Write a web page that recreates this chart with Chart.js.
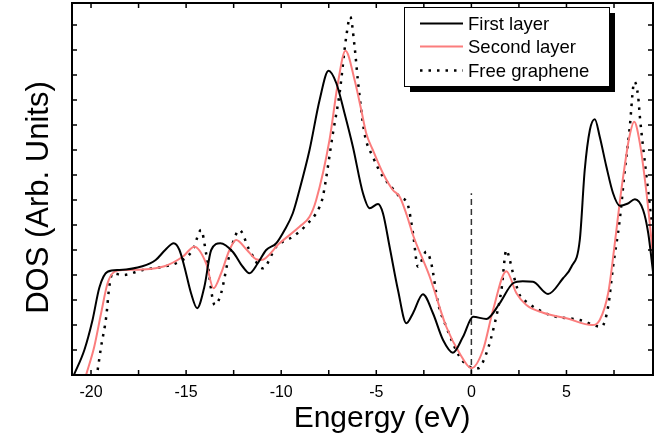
<!DOCTYPE html>
<html>
<head>
<meta charset="utf-8">
<script src="https://cdn.jsdelivr.net/npm/chart.js@4.4.0/dist/chart.umd.min.js"></script>
<style>
  html, body { margin: 0; padding: 0; background: #fff; }
</style>
</head>
<body>
<canvas id="grafico" width="668" height="437"></canvas>
<script>
// DOS curves (energy in eV, DOS in arbitrary units)
const firstE = [-20.9, -20.35, -19.92, -19.56, -19.13, -18.5, -17.3, -16.6, -16.1, -15.65, -15.35, -15.09, -14.74, -14.42, -14.04, -13.68, -13.2, -12.55, -12.02, -11.67, -11.23, -10.79, -10.26, -9.82, -9.39, -9.04, -8.51, -7.98, -7.51, -7.1, -6.67, -6.23, -5.7, -5.35, -4.91, -4.65, -4.3, -3.86, -3.42, -3.07, -2.55, -2.02, -1.49, -0.97, -0.44, 0.09, 0.79, 1.49, 2.19, 2.7, 3.24, 4.03, 4.82, 5.26, 5.7, 5.96, 6.23, 6.49, 6.75, 7.1, 7.45, 7.8, 8.2, 8.6, 9.03, 9.3, 9.56];
const firstDos = [0, 1.0, 2.2, 3.5, 4.13, 4.2, 4.35, 4.6, 5.0, 5.27, 5.0, 4.33, 3.27, 2.67, 3.53, 5.0, 5.27, 4.93, 4.33, 4.07, 4.47, 5.0, 5.27, 5.8, 6.47, 7.4, 9.0, 11.0, 12.17, 11.67, 10.47, 9.13, 7.27, 6.67, 6.84, 6.47, 5.13, 3.4, 2.07, 2.47, 3.23, 2.47, 1.4, 0.89, 1.53, 2.33, 2.24, 2.87, 3.67, 3.75, 3.73, 3.24, 3.87, 4.33, 5.4, 8.2, 9.8, 10.23, 9.53, 8.33, 7.27, 6.77, 6.85, 7.03, 6.6, 5.67, 4.07];

const secondE = [-20.26, -19.83, -19.47, -19.13, -18.77, -18.3, -17.28, -16.14, -15.18, -14.56, -13.95, -13.56, -13.16, -12.72, -12.37, -11.8, -11.32, -11.05, -10.09, -9.04, -8.51, -8.16, -7.46, -7.02, -6.62, -6.14, -5.79, -5.53, -5.18, -4.65, -4.13, -3.77, -3.4, -3.07, -2.19, -1.32, -0.62, 0, 0.61, 1.14, 1.84, 2.37, 2.89, 3.77, 5.0, 6.35, 6.75, 7.2, 7.5, 7.8, 8.05, 8.3, 8.56, 8.86, 9.21, 9.56];
const secondDos = [0, 1.13, 2.47, 3.67, 4.13, 4.2, 4.22, 4.35, 4.73, 5.13, 4.47, 3.47, 4.07, 5.0, 5.4, 5.0, 4.63, 4.6, 5.27, 5.93, 6.33, 7.0, 9.4, 11.67, 12.97, 11.8, 10.6, 9.67, 9.0, 8.07, 7.4, 7.13, 6.4, 5.6, 3.93, 1.93, 0.87, 0.27, 1.0, 2.6, 4.15, 3.27, 2.8, 2.49, 2.27, 2.0, 2.2, 3.3, 5.0, 6.9, 8.3, 9.5, 10.13, 9.27, 7.27, 4.73];

const freeE = [-19.65, -19.47, -19.2, -19.04, -18.86, -18.33, -17.28, -16.23, -15.53, -14.65, -14.21, -13.95, -13.49, -13.16, -12.81, -12.55, -12.2, -11.67, -10.97, -10.26, -9.39, -8.77, -7.98, -7.81, -7.28, -6.93, -6.58, -6.37, -6.14, -5.97, -5.62, -5.18, -4.65, -4.21, -3.77, -3.34, -3.07, -2.81, -2.37, -2.11, -1.75, -1.32, -0.62, -0.09, 0.35, 0.79, 1.23, 1.58, 1.84, 2.02, 2.19, 2.54, 2.89, 4.12, 5.7, 6.84, 7.19, 7.45, 7.8, 8.07, 8.33, 8.51, 8.58, 8.77, 8.86, 9.21, 9.47];
const freeDos = [0.2, 1.13, 2.33, 3.53, 4.07, 4.0, 4.2, 4.33, 4.47, 5.0, 5.8, 4.87, 2.8, 3.27, 4.53, 5.27, 5.8, 5.0, 4.27, 5.13, 5.53, 5.93, 6.73, 7.13, 9.67, 11.27, 13.53, 14.33, 13.13, 11.8, 9.67, 8.73, 7.93, 7.53, 7.13, 6.8, 5.67, 4.33, 4.93, 4.47, 2.87, 1.93, 0.73, 0.33, 0.27, 0.87, 2.07, 3.4, 5.0, 4.6, 4.07, 3.2, 2.93, 2.4, 2.2, 1.93, 2.73, 4.33, 6.2, 8.2, 9.93, 11.53, 11.73, 11.13, 10.33, 7.93, 6.2];

// Fermi level marker
const fermiE = [0, 0];
const fermiDos = [0, 7.27];

const seriesNames = ["First layer", "Second layer", "Free graphene"];
const xLabelTicks = [-20, -15, -10, -5, 0, 5];
const xMinorTicks = [-20, -17.5, -15, -12.5, -10, -7.5, -5, -2.5, 0, 2.5, 5, 7.5];
const yMinorTicks = [1, 2, 3, 4, 5, 6, 7, 8, 9, 10, 11, 12, 13, 14];
const xTitle = "Engergy (eV)";
const yTitle = "DOS (Arb. Units)";

const FONT = '"Liberation Sans", Arial, sans-serif';
const pts = (xs, ys) => xs.map((x, i) => ({ x: x, y: ys[i] }));

const data_dos = {
  datasets: [
    {
      label: seriesNames[0],
      data: pts(firstE, firstDos),
      borderColor: "#000000",
      borderWidth: 2,
      cubicInterpolationMode: "monotone",
      pointRadius: 0,
    },
    {
      label: seriesNames[1],
      data: pts(secondE, secondDos),
      borderColor: "#fb7d7d",
      borderWidth: 2,
      cubicInterpolationMode: "monotone",
      pointRadius: 0,
    },
    {
      label: seriesNames[2],
      data: pts(freeE, freeDos),
      borderColor: "#000000",
      borderWidth: 2.5,
      borderDash: [2.5, 6],
      cubicInterpolationMode: "monotone",
      pointRadius: 0,
    },
    {
      label: "Ef",
      data: pts(fermiE, fermiDos),
      borderColor: "#333333",
      borderWidth: 1.5,
      borderDash: [6, 4],
      pointRadius: 0,
    },
  ],
};

// frame with inward ticks, axis titles and the boxed legend with shadow
const moldura = {
  id: "moldura",
  afterDraw(chart) {
    const ctx = chart.ctx;
    const a = chart.chartArea;
    const sx = chart.scales.x;
    const sy = chart.scales.y;
    ctx.save();
    ctx.strokeStyle = "#000";
    ctx.lineWidth = 2;
    ctx.strokeRect(a.left, a.top, a.right - a.left, a.bottom - a.top);

    ctx.lineWidth = 1.5;
    ctx.beginPath();
    xMinorTicks.forEach((v) => {
      const p = sx.getPixelForValue(v);
      ctx.moveTo(p, a.bottom);
      ctx.lineTo(p, a.bottom - 5);
      ctx.moveTo(p, a.top);
      ctx.lineTo(p, a.top + 5);
    });
    yMinorTicks.forEach((v) => {
      const p = sy.getPixelForValue(v);
      ctx.moveTo(a.left, p);
      ctx.lineTo(a.left + 5, p);
      ctx.moveTo(a.right, p);
      ctx.lineTo(a.right - 5, p);
    });
    ctx.stroke();

    // axis titles
    ctx.fillStyle = "#000";
    ctx.textAlign = "center";
    ctx.textBaseline = "alphabetic";
    ctx.font = "30px " + FONT;
    ctx.fillText(xTitle, 382, 427);
    ctx.save();
    ctx.translate(48, 197.5);
    ctx.rotate(-Math.PI / 2);
    ctx.font = "31px " + FONT;
    ctx.fillText(yTitle, 0, 0);
    ctx.restore();

    // legend
    const bx = 404, by = 7, bw = 205, bh = 79;
    ctx.fillStyle = "#000";
    ctx.fillRect(bx + 6, by + 6, bw, bh);
    ctx.fillStyle = "#fff";
    ctx.fillRect(bx, by, bw, bh);
    ctx.lineWidth = 1;
    ctx.strokeStyle = "#000";
    ctx.strokeRect(bx + 0.5, by + 0.5, bw, bh);

    const rows = [30, 53, 77];
    ctx.font = "18.5px " + FONT;
    ctx.textAlign = "left";
    rows.forEach((yb, i) => {
      const ds = chart.data.datasets[i];
      ctx.save();
      ctx.strokeStyle = ds.borderColor;
      ctx.lineWidth = ds.borderWidth;
      ctx.setLineDash(ds.borderDash || []);
      ctx.beginPath();
      ctx.moveTo(420, yb - 6.5);
      ctx.lineTo(463, yb - 6.5);
      ctx.stroke();
      ctx.restore();
      ctx.fillStyle = "#000";
      ctx.fillText(ds.label, 468, yb);
    });
    ctx.restore();
  },
};

const config_dos = {
  type: "line",
  data: data_dos,
  options: {
    responsive: false,
    animation: false,
    layout: { padding: { left: 72, right: 15, top: 3, bottom: 0 } },
    plugins: {
      legend: { display: false },
      tooltip: { enabled: false },
    },
    scales: {
      x: {
        type: "linear",
        min: -21,
        max: 9.55,
        grid: { display: false, drawTicks: false },
        border: { display: false },
        afterBuildTicks: (scale) => {
          scale.ticks = xLabelTicks.map((v) => ({ value: v }));
        },
        afterFit: (scale) => {
          scale.height = 62;
        },
        ticks: {
          color: "#000",
          padding: 8,
          maxRotation: 0,
          font: { family: FONT, size: 16 },
          callback: (v) => String(v),
        },
      },
      y: {
        display: false,
        min: 0,
        max: 14.88,
      },
    },
  },
  plugins: [moldura],
};

const myChart_dos = new Chart(document.getElementById("grafico"), config_dos);
</script>
</body>
</html>
